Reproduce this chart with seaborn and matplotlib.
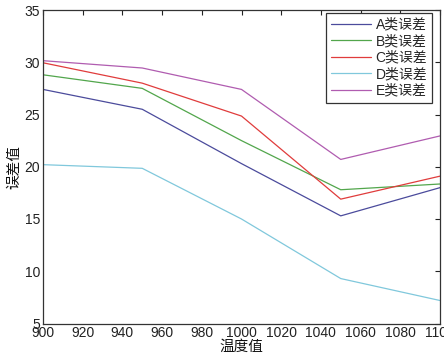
import matplotlib
matplotlib.use("Agg")
import matplotlib.pyplot as plt
import seaborn as sns
import pandas as pd

temps = [900, 950, 1000, 1050, 1100]
err_a = [27.4, 25.5, 20.3, 15.3, 18.0]
err_b = [28.8, 27.5, 22.5, 17.8, 18.35]
err_c = [29.95, 28.0, 24.85, 16.9, 19.1]
err_d = [20.2, 19.85, 15.0, 9.3, 7.2]
err_e = [30.15, 29.45, 27.4, 20.7, 22.95]
series_names = ["A类误差", "B类误差", "C类误差", "D类误差", "E类误差"]
x_ticks = list(range(900, 1101, 20))
y_ticks = list(range(5, 36, 5))

sns.set_theme(style="white")
plt.rcParams['font.family'] = ['Liberation Sans', 'Noto Sans CJK SC', 'DejaVu Sans']

rows = []
for name, vals in zip(series_names, [err_a, err_b, err_c, err_d, err_e]):
    for t, v in zip(temps, vals):
        rows.append({"温度值": t, "误差值": v, "类别": name})
df = pd.DataFrame(rows)

palette = {
    "A类误差": "#4b4b9c",
    "B类误差": "#52a64c",
    "C类误差": "#e03c3c",
    "D类误差": "#80c8dc",
    "E类误差": "#b05cb0",
}

fig = plt.figure(figsize=(4.44, 3.56), dpi=100)
ax = fig.add_axes([43/444, 1-323.5/356, (440-43)/444, (323.5-10)/356])
sns.lineplot(data=df, x="温度值", y="误差值", hue="类别", palette=palette,
             linewidth=0.9, ax=ax, legend=True)

ax.set_xlim(900, 1100)
ax.set_ylim(5, 35)
ax.set_xticks(x_ticks)
ax.set_yticks(y_ticks)
ax.tick_params(direction="in", length=3.5, width=0.8, top=True, right=True,
               labelsize=10, colors="#222222", pad=2)
for s in ax.spines.values():
    s.set_color("#333333")
    s.set_linewidth(0.9)
ax.set_xlabel("温度值", fontsize=10.5, labelpad=0, color="#111111")
ax.set_ylabel("误差值", fontsize=10.5, labelpad=2, color="#111111")

leg = ax.legend(loc="upper right", bbox_to_anchor=(432/444, 1-13/356),
                bbox_transform=fig.transFigure, fancybox=False, framealpha=1,
                edgecolor="#333333", fontsize=10, handlelength=2.9,
                handletextpad=0.3, labelspacing=0.18, borderpad=0.35,
                borderaxespad=0)
leg.get_frame().set_linewidth(0.9)

fig.savefig("out.png", dpi=100)
